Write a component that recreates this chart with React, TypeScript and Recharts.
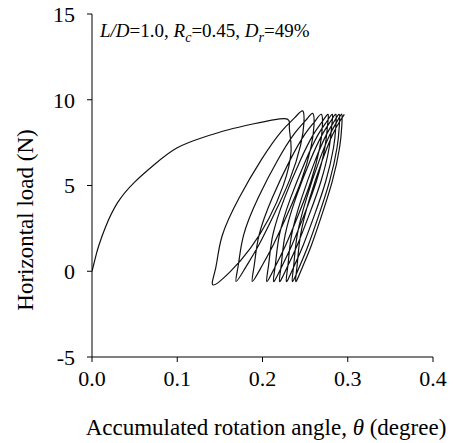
import { Customized, Line, LineChart, XAxis, YAxis } from "recharts";

// monotonic first loading
const monoTheta = [0, 0.004, 0.008, 0.016, 0.03, 0.05, 0.075, 0.1, 0.13, 0.16, 0.19, 0.226];
const monoLoad = [0, 0.8, 1.5, 2.6, 4.0, 5.2, 6.3, 7.2, 7.8, 8.25, 8.6, 8.9];

// each cycle: unloading to the trough, then reloading to the next peak
const cycleTheta = [
  [0.2315, 0.2335, 0.2245, 0.2075, 0.1857, 0.1622, 0.142, 0.1452, 0.1525, 0.1725, 0.1987, 0.2218, 0.2376, 0.247],
  [0.2486, 0.2447, 0.2322, 0.2142, 0.1963, 0.1799, 0.169, 0.1717, 0.178, 0.1951, 0.2176, 0.2374, 0.2509, 0.259],
  [0.2604, 0.2569, 0.2455, 0.2292, 0.2129, 0.1979, 0.188, 0.1904, 0.1961, 0.2115, 0.2317, 0.2496, 0.2617, 0.269],
  [0.2703, 0.2671, 0.2568, 0.2421, 0.2274, 0.214, 0.205, 0.2072, 0.2122, 0.2259, 0.2439, 0.2597, 0.2705, 0.277],
  [0.2762, 0.2731, 0.2632, 0.249, 0.2347, 0.2217, 0.213, 0.2151, 0.2199, 0.233, 0.2503, 0.2654, 0.2758, 0.282],
  [0.2812, 0.2782, 0.2686, 0.2548, 0.241, 0.2284, 0.22, 0.222, 0.2266, 0.2391, 0.2556, 0.2702, 0.2801, 0.286],
  [0.2861, 0.2833, 0.2742, 0.2611, 0.248, 0.236, 0.228, 0.2299, 0.2342, 0.246, 0.2615, 0.2751, 0.2844, 0.29],
  [0.2901, 0.2874, 0.2787, 0.2663, 0.2539, 0.2426, 0.235, 0.2367, 0.2408, 0.2518, 0.2663, 0.2791, 0.2878, 0.293],
  [0.293, 0.2904, 0.2819, 0.2697, 0.2576, 0.2464, 0.239, 0.2407, 0.2447, 0.2555, 0.2698, 0.2823, 0.2909, 0.296],
];
const cycleLoad = [
  [8.35, 7.0, 5.02, 3.08, 1.33, -0.02, -0.8, 0.215, 2.04, 4.275, 6.51, 8.13, 8.94, 9.35],
  [8.65, 7.36, 5.37, 3.38, 1.59, 0.2, -0.6, 0.38, 2.14, 4.3, 6.46, 8.02, 8.81, 9.2],
  [8.51, 7.24, 5.28, 3.32, 1.56, 0.18, -0.6, 0.38, 2.13, 4.28, 6.42, 7.98, 8.76, 9.15],
  [8.47, 7.2, 5.25, 3.3, 1.55, 0.18, -0.6, 0.38, 2.13, 4.28, 6.42, 7.98, 8.76, 9.15],
  [8.47, 7.2, 5.25, 3.3, 1.55, 0.18, -0.6, 0.38, 2.13, 4.28, 6.42, 7.98, 8.76, 9.15],
  [8.47, 7.2, 5.25, 3.3, 1.55, 0.18, -0.6, 0.38, 2.13, 4.28, 6.42, 7.98, 8.76, 9.15],
  [8.47, 7.2, 5.25, 3.3, 1.55, 0.18, -0.6, 0.38, 2.13, 4.28, 6.42, 7.98, 8.76, 9.15],
  [8.47, 7.2, 5.25, 3.3, 1.55, 0.18, -0.6, 0.38, 2.13, 4.28, 6.42, 7.98, 8.76, 9.15],
  [8.47, 7.2, 5.25, 3.3, 1.55, 0.18, -0.6, 0.38, 2.13, 4.28, 6.42, 7.98, 8.76, 9.15],
];

const xTicks = [0, 0.1, 0.2, 0.3, 0.4];
const yTicks = [-5, 0, 5, 10, 15];

const FONT = "Liberation Serif, Times New Roman, DejaVu Serif, serif";

const data = [
  ...monoTheta.map((x, i) => ({ x, y: monoLoad[i] })),
  ...cycleTheta.flatMap((row, c) => row.map((x, i) => ({ x, y: cycleLoad[c][i] }))),
];

function Texts() {
  return (
    <g fontFamily={FONT} style={{ fontFamily: FONT, whiteSpace: "pre" }} fill="#000">
      <text x={100} y={37} fontSize={19}>
        <tspan fontStyle="italic">L/D</tspan>
        <tspan>=1.0, </tspan>
        <tspan fontStyle="italic">R</tspan>
        <tspan fontStyle="italic" fontSize={14} dy={5}>c</tspan>
        <tspan dy={-5}>=0.45, </tspan>
        <tspan fontStyle="italic">D</tspan>
        <tspan fontStyle="italic" fontSize={14} dy={5}>r</tspan>
        <tspan dy={-5}>=49%</tspan>
      </text>
      <text x={266} y={435} fontSize={23} textAnchor="middle">
        Accumulated rotation angle, <tspan fontStyle="italic">θ</tspan> (degree)
      </text>
      <text
        x={25}
        y={220}
        fontSize={23}
        textAnchor="middle"
        dominantBaseline="central"
        transform="rotate(-90 25 220)"
      >
        Horizontal load (N)
      </text>
    </g>
  );
}

export default function App() {
  const tick = { fill: "#000", fontSize: 22, fontFamily: FONT };
  return (
    <div style={{ position: "absolute", left: 0, top: 0, width: 453, height: 443, fontFamily: FONT }}>
      <LineChart
        width={453}
        height={443}
        data={data}
        margin={{ top: 14, right: 20, bottom: 0, left: 0 }}
        style={{ fontFamily: FONT }}
      >
        <XAxis
          type="number"
          dataKey="x"
          domain={[0, 0.4]}
          ticks={xTicks}
          tickFormatter={(v: number) => v.toFixed(1)}
          height={86}
          tickSize={5}
          tickMargin={8}
          stroke="#000"
          tick={tick}
          allowDataOverflow
        />
        <YAxis
          type="number"
          domain={[-5, 15]}
          ticks={yTicks}
          width={92}
          tickSize={5}
          tickMargin={12}
          stroke="#000"
          tick={tick}
          allowDataOverflow
        />
        <Line
          type="natural"
          dataKey="y"
          stroke="#111"
          strokeWidth={1.2}
          dot={false}
          isAnimationActive={false}
        />
        <Customized component={Texts} />
      </LineChart>
    </div>
  );
}
